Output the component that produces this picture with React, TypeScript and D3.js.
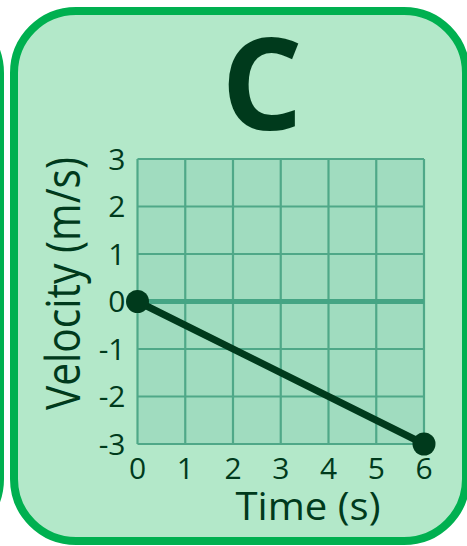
import React from 'react';
import * as d3 from 'd3';

// chart data
const timeValues = [0, 6];
const velocityValues = [0, -3];
const xTicks = [0, 1, 2, 3, 4, 5, 6];
const yTicks = [-3, -2, -1, 0, 1, 2, 3];
const cardLetter = 'C';
const xTitle = 'Time (s)';
const yTitle = 'Velocity (m/s)';

const W = 467;
const H = 546;
const FONT = "'Open Sans', 'Noto Sans', sans-serif";
const DARK = '#003a1c';

export default function App() {
  // plot area
  const plot = { left: 137.5, right: 424, top: 159, bottom: 444 };

  const x = d3.scaleLinear().domain([0, 6]).range([plot.left, plot.right]);
  const y = d3.scaleLinear().domain([-3, 3]).range([plot.bottom, plot.top]);

  const points = timeValues.map((t, i) => [t, velocityValues[i]] as [number, number]);
  const line = d3
    .line<[number, number]>()
    .x((d) => x(d[0]))
    .y((d) => y(d[1]));

  return (
    <svg
      width={W}
      height={H}
      style={{ position: 'fixed', left: 0, top: 0, display: 'block' }}
    >
      <rect width={W} height={H} fill="#ffffff" />

      {/* neighbouring card edge */}
      <rect x={-456} y={11} width={456} height={530} rx={62} fill="#b3e8c9" stroke="#00b050" strokeWidth={8} />

      {/* card */}
      <rect x={14} y={11} width={452} height={530} rx={62} fill="#b3e8c9" stroke="#00b050" strokeWidth={8} />

      <text
        x={262}
        y={130}
        textAnchor="middle"
        fontFamily={FONT}
        fontWeight={700}
        fontSize={128}
        fill={DARK}
      >
        {cardLetter}
      </text>

      {/* plot background */}
      <rect
        x={plot.left}
        y={plot.top}
        width={plot.right - plot.left}
        height={plot.bottom - plot.top}
        fill="#a0dcbf"
      />

      {/* grid */}
      <g stroke="#4fa888" strokeWidth={2.2}>
        {xTicks.map((t) => (
          <line key={'gx' + t} x1={x(t)} x2={x(t)} y1={plot.top} y2={plot.bottom} />
        ))}
        {yTicks.map((t) => (
          <line
            key={'gy' + t}
            x1={plot.left}
            x2={plot.right}
            y1={y(t)}
            y2={y(t)}
            strokeWidth={t === 0 ? 5 : 2.2}
            stroke={t === 0 ? '#45a584' : '#4fa888'}
          />
        ))}
      </g>

      {/* tick labels */}
      <g fontFamily={FONT} fontSize={30} fill={DARK}>
        {yTicks.map((t) => (
          <text key={'ty' + t} x={plot.left - 12} y={y(t)} dy="0.36em" textAnchor="end">
            {t}
          </text>
        ))}
        {xTicks.map((t) => (
          <text key={'tx' + t} x={x(t)} y={479} textAnchor="middle">
            {t}
          </text>
        ))}
      </g>

      {/* axis titles */}
      <text
        x={308}
        y={520}
        textAnchor="middle"
        fontFamily={FONT}
        fontSize={39}
        textLength={145}
        lengthAdjust="spacingAndGlyphs"
        fill={DARK}
      >
        {xTitle}
      </text>
      <text
        transform="translate(80, 283.5) rotate(-90)"
        textAnchor="middle"
        fontFamily={FONT}
        fontSize={48}
        textLength={253}
        lengthAdjust="spacingAndGlyphs"
        fill={DARK}
      >
        {yTitle}
      </text>

      {/* data */}
      <path d={line(points) ?? ''} fill="none" stroke={DARK} strokeWidth={7} strokeLinecap="round" />
      {points.map((d, i) => (
        <circle key={'p' + i} cx={x(d[0])} cy={y(d[1])} r={11.5} fill={DARK} />
      ))}
    </svg>
  );
}
